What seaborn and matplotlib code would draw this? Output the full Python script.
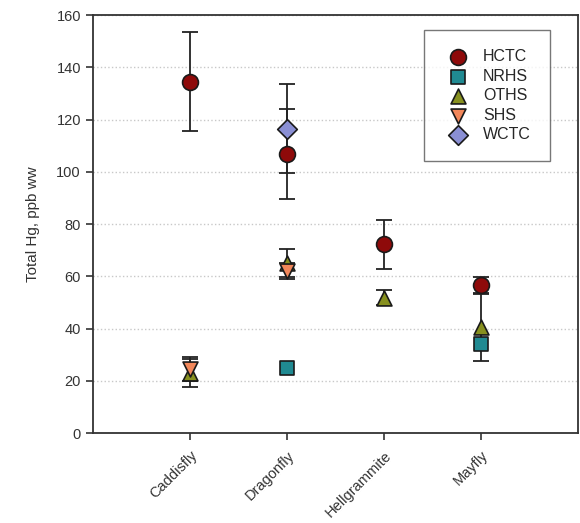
import pandas as pd
import matplotlib
matplotlib.use('Agg')
import matplotlib.pyplot as plt
import seaborn as sns

# Taxa on the x axis and the sites shown in the legend
taxa = ['Caddisfly', 'Dragonfly', 'Hellgrammite', 'Mayfly']
sites = ['HCTC', 'NRHS', 'OTHS', 'SHS', 'WCTC']

# Mean total Hg (ppb ww) per site and taxon
point_taxon = ['Caddisfly', 'Caddisfly', 'Caddisfly',
               'Dragonfly', 'Dragonfly', 'Dragonfly', 'Dragonfly', 'Dragonfly',
               'Hellgrammite', 'Hellgrammite',
               'Mayfly', 'Mayfly', 'Mayfly']
point_site = ['HCTC', 'OTHS', 'SHS',
              'HCTC', 'NRHS', 'OTHS', 'SHS', 'WCTC',
              'HCTC', 'OTHS',
              'HCTC', 'NRHS', 'OTHS']
point_hg = [134.5, 23.0, 24.5,
            107.0, 25.0, 65.0, 62.0, 116.5,
            72.3, 51.8,
            56.5, 34.0, 40.7]
point_err = [19.0, 5.5, 4.5,
             17.2, 0.0, 5.3, 3.0, 17.0,
             9.4, 2.9,
             3.2, 0.0, 13.0]

site_colors = {'HCTC': '#8e0a0a', 'NRHS': '#208a92', 'OTHS': '#87901f',
               'SHS': '#f2875a', 'WCTC': '#8a8fd4'}
site_markers = {'HCTC': 'o', 'NRHS': 's', 'OTHS': '^', 'SHS': 'v', 'WCTC': 'D'}
site_sizes = {'HCTC': 130, 'NRHS': 100, 'OTHS': 115, 'SHS': 115, 'WCTC': 100}

df = pd.DataFrame({'taxon': point_taxon, 'site': point_site,
                   'hg': point_hg, 'err': point_err})
df['pos'] = df['taxon'].map({t: i for i, t in enumerate(taxa)})

sns.set_style('ticks')
plt.rcParams['font.family'] = ['Liberation Sans', 'DejaVu Sans']

fig = plt.figure(figsize=(5.8, 5.23), dpi=100)
ax = fig.add_axes([0.160, 0.172, 0.837, 0.799])

# error bars first so the markers sit on top
for _, row in df[df['err'] > 0].iterrows():
    ax.errorbar(row['pos'], row['hg'], yerr=row['err'], fmt='none',
                ecolor='#222222', elinewidth=1.3, capsize=6, capthick=1.3,
                zorder=2)

for site in sites:
    sub = df[df['site'] == site]
    sns.scatterplot(data=sub, x='pos', y='hg', ax=ax, color=site_colors[site],
                    marker=site_markers[site], s=site_sizes[site],
                    edgecolor='#1a1a1a', linewidth=1.2, label=site, zorder=3)

ax.set_xlim(-1, 4)
ax.set_ylim(0, 160)
ax.set_yticks(range(0, 161, 20))
ax.set_xticks(range(len(taxa)))
ax.set_xticklabels(taxa, rotation=45, ha='right', rotation_mode='anchor',
                   fontsize=10.5, color='#333333')
ax.tick_params(axis='y', labelsize=10.5, labelcolor='#333333')
ax.tick_params(direction='out', length=5, width=1.2, color='#333333')
ax.tick_params(axis='x', pad=6)
ax.yaxis.grid(True, linestyle=':', color='#c8c8c8', linewidth=1)
ax.set_axisbelow(True)
ax.set_xlabel('')
ax.set_ylabel('Total Hg, ppb ww', fontsize=11, color='#333333', labelpad=12)
for sp in ax.spines.values():
    sp.set_visible(True)
    sp.set_linewidth(1.3)
    sp.set_color('#333333')

leg = ax.legend(loc='upper right', bbox_to_anchor=(0.942, 0.964), fontsize=11.5,
                frameon=True, fancybox=False, edgecolor='#555555',
                borderaxespad=0, borderpad=1.2, labelspacing=0.28,
                handletextpad=0.7, handlelength=1.8, markerscale=1.0)
leg.get_frame().set_linewidth(1.0)

fig.savefig('out.png', dpi=100)
